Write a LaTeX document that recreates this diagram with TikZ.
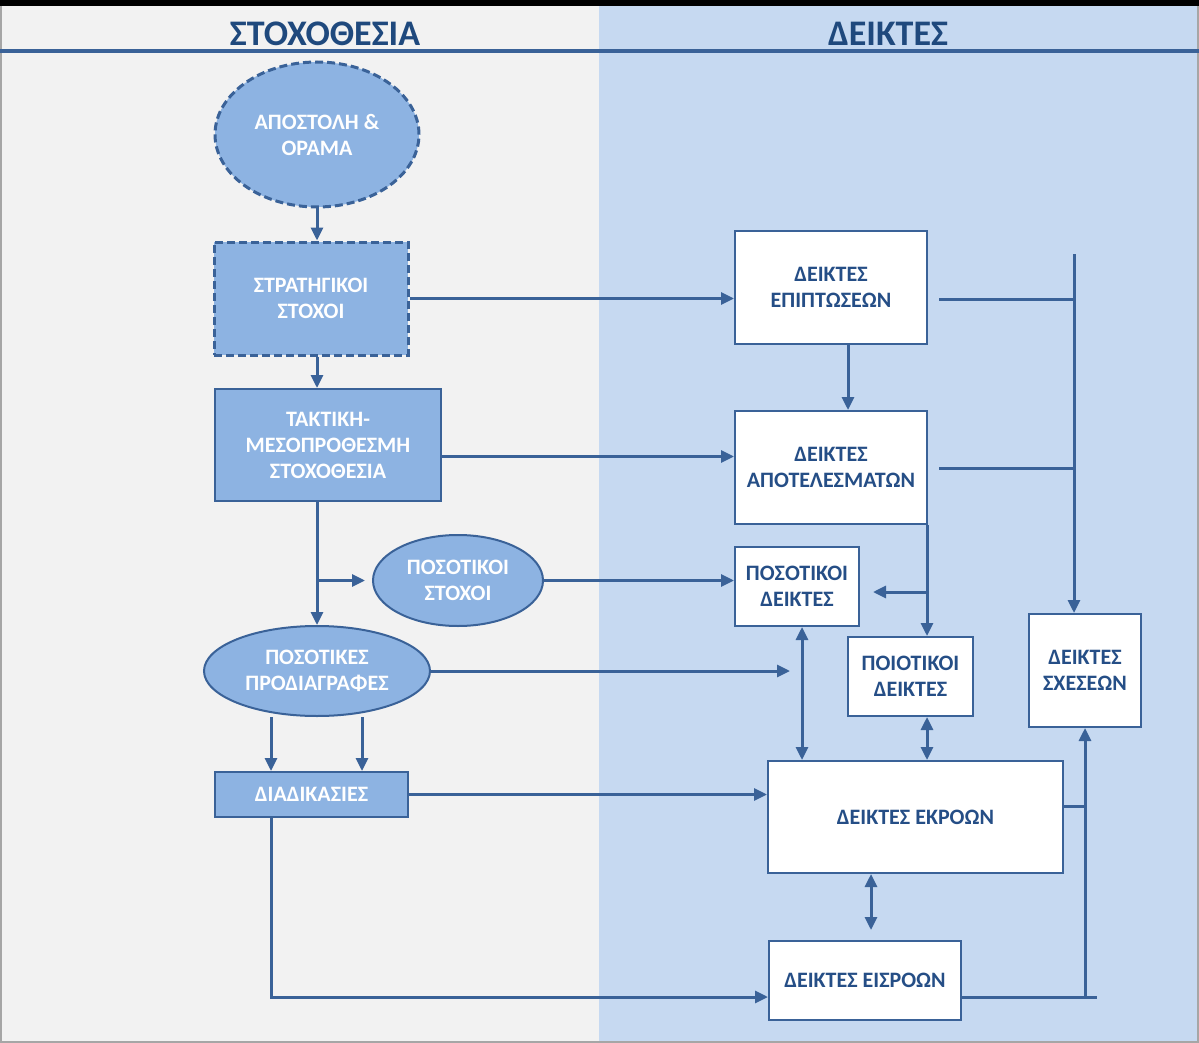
\documentclass[tikz,border=0pt]{standalone}
\usepackage{fontspec}
\setmainfont{Carlito}
\usetikzlibrary{arrows.meta,shapes.geometric}
\definecolor{ln}{HTML}{3A6298}
\definecolor{fillb}{HTML}{8DB3E2}
\definecolor{txt}{HTML}{254E86}
\definecolor{ttl}{HTML}{1F497D}
\definecolor{bgl}{HTML}{F2F2F2}
\definecolor{bgr}{HTML}{C6D9F1}
\definecolor{edge}{HTML}{A6A6A6}
\tikzset{
  conn/.style={draw=ln, line width=3pt},
  arr/.style={conn, -{Triangle[length=13pt,width=12pt]}},
  darr/.style={conn, {Triangle[length=13pt,width=12pt]}-{Triangle[length=13pt,width=12pt]}},
  boxtext/.style={font=\bfseries\fontsize{22}{26}\selectfont, align=center, inner sep=0pt},
  bluebox/.style={rectangle, boxtext, draw=ln, line width=2pt, fill=fillb, text=white},
  blueell/.style={ellipse, boxtext, draw=ln, line width=2pt, fill=fillb, text=white},
  whitebox/.style={rectangle, boxtext, draw=ln, line width=2pt, fill=white, text=txt},
  dashedge/.style={dash pattern=on 8pt off 4pt, line width=3pt},
  titletext/.style={font=\bfseries\fontsize{36}{40}\selectfont, text=ttl, inner sep=0pt},
}
\begin{document}
\begin{tikzpicture}[x=1pt,y=-1pt]
\useasboundingbox (0,0) rectangle (1199,1043);
% backgrounds
\fill[black] (0,0) rectangle (1199,6);
\fill[bgl] (0,6) rectangle (599,1043);
\fill[bgr] (599,6) rectangle (1199,1043);
\draw[edge, line width=2pt] (1,6) -- (1,1042) -- (1198,1042) -- (1198,6);
\draw[ln, line width=3.5pt] (0,51) -- (1199,51);
\node[titletext] (t1) at (325,34) {ΣΤΟΧΟΘΕΣΙΑ};
\node[titletext] (t2) at (888,34) {ΔΕΙΚΤΕΣ};

% left column
\node[blueell, dashedge, minimum width=204, minimum height=145] (mission) at (317,134.5) {ΑΠΟΣΤΟΛΗ \&\\ΟΡΑΜΑ};
\node[bluebox, dashedge, minimum width=194, minimum height=113] (strat) at (311,298.5) {ΣΤΡΑΤΗΓΙΚΟΙ\\ΣΤΟΧΟΙ};
\node[bluebox, minimum width=226, minimum height=112] (takt) at (328,445) {ΤΑΚΤΙΚΗ-\\ΜΕΣΟΠΡΟΘΕΣΜΗ\\ΣΤΟΧΟΘΕΣΙΑ};
\node[blueell, minimum width=170, minimum height=91] (posst) at (458,580.5) {ΠΟΣΟΤΙΚΟΙ\\ΣΤΟΧΟΙ};
\node[blueell, minimum width=226, minimum height=90] (prod) at (317,671) {ΠΟΣΟΤΙΚΕΣ\\ΠΡΟΔΙΑΓΡΑΦΕΣ};
\node[bluebox, minimum width=193, minimum height=45] (diad) at (311.5,794.5) {ΔΙΑΔΙΚΑΣΙΕΣ};

% right column
\node[whitebox, minimum width=192, minimum height=113] (epip) at (831,287.5) {ΔΕΙΚΤΕΣ\\ΕΠΙΠΤΩΣΕΩΝ};
\node[whitebox, minimum width=192, minimum height=113] (apot) at (831,467.5) {ΔΕΙΚΤΕΣ\\ΑΠΟΤΕΛΕΣΜΑΤΩΝ};
\node[whitebox, minimum width=124, minimum height=79] (posd) at (797,586.5) {ΠΟΣΟΤΙΚΟΙ\\ΔΕΙΚΤΕΣ};
\node[whitebox, minimum width=125, minimum height=79] (poiot) at (910.5,676.5) {ΠΟΙΟΤΙΚΟΙ\\ΔΕΙΚΤΕΣ};
\node[whitebox, minimum width=112, minimum height=113] (sxes) at (1085,670.5) {ΔΕΙΚΤΕΣ\\ΣΧΕΣΕΩΝ};
\node[whitebox, minimum width=295, minimum height=112] (ekr) at (915.5,817) {ΔΕΙΚΤΕΣ ΕΚΡΟΩΝ};
\node[whitebox, minimum width=192, minimum height=79] (eisr) at (865,980.5) {ΔΕΙΚΤΕΣ ΕΙΣΡΟΩΝ};

% helper coordinates
\coordinate (spine) at (317,0);
\coordinate (p1) at (271,717);
\coordinate (p2) at (362,717);
\coordinate (bot) at (271,997);
\coordinate (tk) at (441,456.5);
\coordinate (free) at (790,671);
\coordinate (c848) at (848,0);
\coordinate (c927) at (927,0);
\coordinate (br) at (927,592);
\coordinate (c802) at (802,0);
\coordinate (d1) at (871,930);
\coordinate (endr) at (1097,997);
\coordinate (c1085) at (1085,0);
\coordinate (vtop) at (1074,254);
\coordinate (h1) at (939,299);
\coordinate (h2) at (939,468);
\coordinate (e1) at (1063,806);

% left connectors
\draw[arr] (mission.south) -- (spine |- strat.north);
\draw[arr] (spine |- strat.south) -- (spine |- takt.north);
\draw[arr] (spine |- takt.south) -- (spine |- prod.north);
\draw[arr, shorten >=7pt] (spine |- posst.west) -- (posst.west);
\draw[arr] (p1) -- (p1 |- diad.north);
\draw[arr] (p2) -- (p2 |- diad.north);
\draw[arr] (p1 |- diad.south) -- (bot) -- (bot -| eisr.west);

% cross connectors
\draw[arr] (strat.east) -- (strat.east -| epip.west);
\draw[arr] (tk) -- (tk -| apot.west);
\draw[arr] (posst.east) -- (posst.east -| posd.west);
\draw[arr] (prod.east) -- (free);
\draw[arr] (diad.east) -- (diad.east -| ekr.west);

% right connectors
\draw[arr] (c848 |- epip.south) -- (c848 |- apot.north);
\draw[arr] (c927 |- apot.south) -- (c927 |- poiot.north);
\draw[arr, shorten >=13pt] (br) -- (br -| posd.east);
\draw[darr] (c802 |- posd.south) -- (c802 |- ekr.north);
\draw[darr] (c927 |- poiot.south) -- (c927 |- ekr.north);
\draw[darr] (d1 |- ekr.south) -- (d1);
\draw[conn] (eisr.east |- endr) -- (endr);
\draw[arr] (c1085 |- endr) -- (c1085 |- sxes.south);
\draw[conn] (e1) -- (e1 -| c1085);
\draw[arr] (vtop) -- (vtop |- sxes.north);
\draw[conn] (h1) -- (h1 -| vtop);
\draw[conn] (h2) -- (h2 -| vtop);
\end{tikzpicture}
\end{document}
